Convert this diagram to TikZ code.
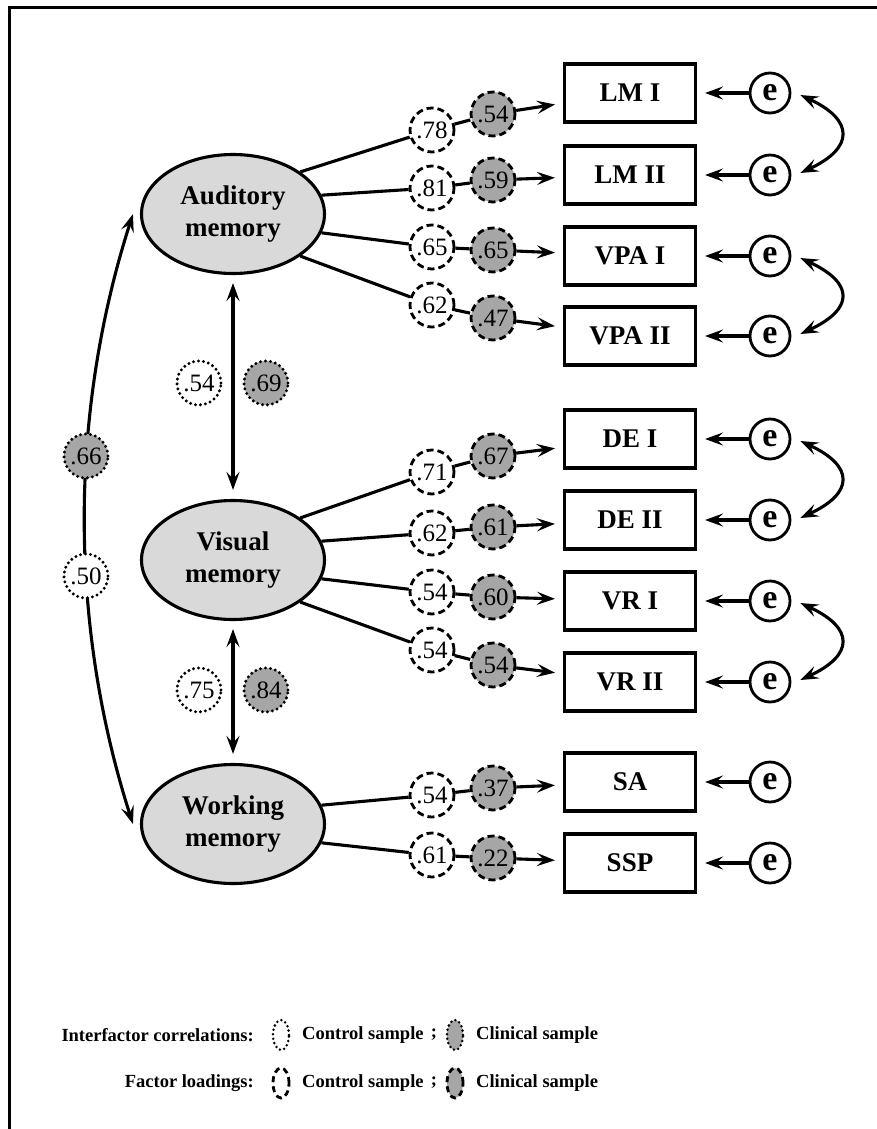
\documentclass[tikz,border=0pt]{standalone}
\usepackage{fontspec}
\setmainfont{Liberation Serif}
\usetikzlibrary{arrows.meta,shapes.geometric,calc}
\definecolor{latfill}{HTML}{D9D9D9}
\definecolor{clinfill}{HTML}{A6A6A6}
\begin{document}
\begin{tikzpicture}[x=1pt,y=-1pt,
  >={Stealth[length=18pt,width=13pt,inset=7pt]},
  conn/.style={line width=3.1pt},
  lat/.style={ellipse, draw, line width=3.1pt, fill=latfill, minimum width=183pt, minimum height=119pt, inner sep=0pt,
    align=center, font=\bfseries\fontsize{27}{32}\selectfont},
  obs/.style={rectangle, draw, line width=3.1pt, minimum width=131pt, minimum height=58pt, inner sep=0pt,
    font=\bfseries\fontsize{27}{30}\selectfont},
  err/.style={circle, draw, line width=2.8pt, fill=white, minimum size=40pt, inner sep=0pt,
    font=\bfseries\fontsize{34}{36}\selectfont},
  ctl/.style={circle, draw, line width=2.8pt, dash pattern=on 7pt off 4pt, fill=white, minimum size=44pt, inner sep=0pt,
    font=\fontsize{25}{28}\selectfont},
  cln/.style={ctl, fill=clinfill},
  ictl/.style={circle, draw, line width=3.3pt, dash pattern=on 0pt off 5pt, line cap=round, fill=white, minimum size=44pt, inner sep=0pt,
    font=\fontsize{25}{28}\selectfont},
  icln/.style={ictl, fill=clinfill},
  legtext/.style={font=\bfseries\fontsize{18.5}{21}\selectfont, inner sep=0pt},
  legdot/.style={ellipse, draw, line width=2.8pt, dash pattern=on 0pt off 4.5pt, line cap=round, minimum width=16pt, minimum height=30pt, inner sep=0pt},
  legdash/.style={ellipse, draw, line width=2.8pt, dash pattern=on 6pt off 4pt, minimum width=16pt, minimum height=30pt, inner sep=0pt}
]
\useasboundingbox (0,0) rectangle (877,1129);
\fill[white] (0,0) rectangle (877,1129);
\draw[line width=3pt] (9,1140) -- (9,8) -- (890,8);

% latent factors
\node[lat] (A) at (233,214) {Auditory\\memory};
\node[lat] (V) at (233,560) {Visual\\memory};
\node[lat] (W) at (233,824) {Working\\memory};

% observed variables
\node[obs] (LMa) at (630,93) {LM I};
\node[obs] (LMb) at (630,175) {LM II};
\node[obs] (VPAa) at (630,256) {VPA I};
\node[obs] (VPAb) at (630,336) {VPA II};
\node[obs] (DEa) at (630,439) {DE I};
\node[obs] (DEb) at (630,520) {DE II};
\node[obs] (VRa) at (630,601) {VR I};
\node[obs] (VRb) at (630,682) {VR II};
\node[obs] (SA) at (630,782) {SA};
\node[obs] (SSP) at (630,863) {SSP};

% errors
\foreach \T in {LMa,LMb,VPAa,VPAb,DEa,DEb,VRa,VRb,SA,SSP}{
  \node[err] (e\T) at ($(\T)+(140,0)$) {e};
  \draw[conn,->,shorten >=8pt] (e\T) -- (\T);
}
\foreach \p/\q in {LMa/LMb,VPAa/VPAb,DEa/DEb,VRa/VRb}{
  \draw[conn,<->] ($(e\p.east)+(9,2)$) .. controls +(54,25) and +(54,-25) .. ($(e\q.east)+(9,-2)$);
}

% loadings
\foreach \L/\a/\yc/\yk/\vc/\vk/\T [count=\i] in {
  A/32/130/114/.78/.54/LMa,
  A/12/188/180/.81/.59/LMb,
  A/-12/247/250/.65/.65/VPAa,
  A/-32/305/318/.62/.47/VPAb,
  V/32/472/456/.71/.67/DEa,
  V/12/533/527/.62/.61/DEb,
  V/-12/592/597/.54/.60/VRa,
  V/-32/650/665/.54/.54/VRb,
  W/12/795/788/.54/.37/SA,
  W/-12/855/858/.61/.22/SSP}{
  \node[ctl] (c\i) at (432,\yc) {\vc};
  \node[cln] (k\i) at (493,\yk) {\vk};
  \draw[conn] (\L.\a) -- (c\i);
  \draw[conn] (c\i) -- (k\i);
  \draw[conn,->,shorten >=8pt] (k\i) -- (\T);
}

% interfactor correlations
\draw[conn,<->,shorten <=8pt,shorten >=9pt] (A.south) -- (V.north);
\node[ictl] (r1) at (199,383) {.54};
\node[icln] (r2) at (266,383) {.69};
\draw[conn,<->,shorten <=8pt,shorten >=9pt] (V.south) -- (W.north);
\node[ictl] (r3) at (199,690) {.75};
\node[icln] (r4) at (266,690) {.84};
\draw[conn,<->] ([xshift=-7pt]A.west) .. controls +(-64,200) and +(-64,-200) .. ([xshift=-7pt]W.west);
\node[icln] (r5) at (86,456) {.66};
\node[ictl] (r6) at (86,576) {.50};

% legend
\node[legtext,anchor=east] (l1) at (254,1035) {Interfactor correlations:};
\node[legdot] (l1a) at (281,1035) {};
\node[legtext,anchor=west] (l1b) at (302,1035) {Control sample};
\node[legtext] (l1c) at (434,1035) {;};
\node[legdot,fill=clinfill] (l1d) at (455,1035) {};
\node[legtext,anchor=west] (l1e) at (476,1035) {Clinical sample};

\node[legtext,anchor=east] (l2) at (254,1083) {Factor loadings:};
\node[legdash] (l2a) at (281,1083) {};
\node[legtext,anchor=west] (l2b) at (302,1083) {Control sample};
\node[legtext] (l2c) at (434,1083) {;};
\node[legdash,fill=clinfill] (l2d) at (455,1083) {};
\node[legtext,anchor=west] (l2e) at (476,1083) {Clinical sample};
\end{tikzpicture}
\end{document}
